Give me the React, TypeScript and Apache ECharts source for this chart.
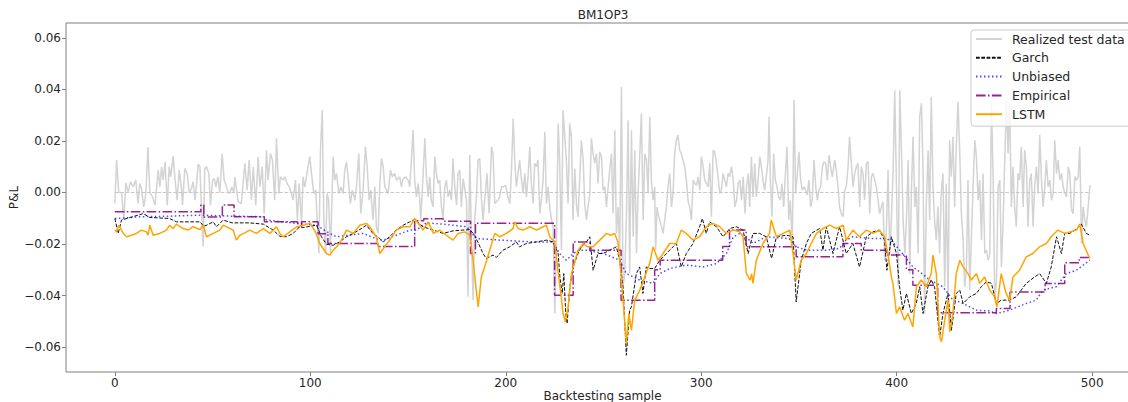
import React, { useEffect, useRef } from "react";
import * as echarts from "echarts";

const FONT = "DejaVu Sans";

const chartTitle = "BM1OP3";
const xAxisName = "Backtesting sample";
const yAxisName = "P&L";
const seriesNames = ["Realized test data", "Garch", "Unbiased", "Empirical", "LSTM"];
const xTickValues = [0, 100, 200, 300, 400, 500];
const yTickValues = [-0.06, -0.04, -0.02, 0.0, 0.02, 0.04, 0.06];
const xRange = [-25, 524];
const yRange = [-0.0697, 0.0658];

const realized: number[][] = [
  [0,-0.0043],[0.9,0.0126],[2,0.0],[3.4,0.0],[4.6,-0.0107],[5.6,0.0038],[6.8,0.0],[8,0.0042],[9.4,0.0022],[10.7,0.0048],[11.9,-0.0043],[12.8,0.0035],[13.6,0.0016],[14.8,-0.0056],[15.9,0.0],[16.9,0.0175],[17.9,0.0],[19.3,-0.0017],[20.5,-0.0049],[22.2,0.0087],[23,0.0022],[23.9,0.01],[24.7,0.0048],[25.7,0.0119],[26.8,-0.0049],[27.8,0.01],[28.6,0.0061],[29.8,0.0141],[30.8,0.0048],[31.9,-0.003],[32.9,0.0087],[34,0.0022],[34.6,-0.0049],[35.8,0.0093],[37,0.0074],[38,0.0],[39.2,0.0016],[40,0.0042],[41,-0.003],[41.8,0.0035],[42.6,0.011],[43.5,0.01],[44.3,-0.0056],[45.2,-0.0211],[46,0.0093],[46.9,0.01],[48.1,0.0074],[48.9,-0.0049],[50,0.0048],[50.8,0.0054],[51.7,0.0022],[52.7,0.0061],[53.7,0.0],[54.9,0.0151],[55.9,0.0048],[57.1,0.0022],[58,0.0],[58.8,-0.0004],[59.8,0.0022],[60.9,0.0],
  [61.4,0.006],[63.1,-0.0036],[64.7,-0.0043],[66.5,0.0113],[67.7,0.0009],[68.7,0.0126],[69.9,-0.003],[70.8,0.01],[72.1,-0.0049],[73.3,0.0139],[74.2,0.0022],[75.4,0.01],[76.4,-0.0082],[77.6,0.0164],[78.4,0.0048],[79.6,0.0151],[80.6,0.0126],[81.8,-0.003],[82.7,0.021],[83.9,-0.0004],[84.7,0.0061],[86.1,0.0048],[87,0.0061],[88.1,0.0035],[89.2,0.0022],[90.4,-0.0004],[91.2,-0.003],[92.4,0.0048],[93.4,-0.0107],[94.3,0.0035],[95.5,-0.012],[96.3,0.0061],[97.2,0.0022],[98.4,0.008],[99.7,0.0139],[100.6,0.0074],[101.8,-0.0004],[102.8,0.0009],[103.5,-0.0107],[104.4,-0.0237],[105.2,0.0164],[106.1,0.032],[106.9,-0.0107],[107.8,-0.0237],[108.6,-0.0004],[109.4,-0.003],[110.3,-0.0237],[111.7,0.0139],[112.5,0.0048],[113.4,0.0074],[114.6,-0.0004],[115.6,0.0022],[116.8,-0.0004],[117.6,0.0087],[118.5,0.0119],[119.5,0.0048],[120.5,-0.0043],[121.5,0.0009],[122.8,-0.003],[123.6,0.0022],[124.8,0.0151],[125.8,-0.0082],[127,0.0009],[128.2,0.0177],[129.1,0.01],[130.1,-0.003],[130.9,0.0009],[132.1,-0.0107],[133,0.0022],[133.8,-0.0133],[134.7,-0.0159],[135.5,0.0022],[136.4,0.0132],[137.3,0.01],[138.1,0.0022],[139,0.0009],[139.8,-0.0004],[141,0.0087],[142,0.0061],[143.2,0.0074],[144.1,0.0048],[145.8,0.0061],[146.6,0.0022],[147.5,0.0054],
  [148.8,0.0061],[150,0.0048],[150.9,0.0022],[151.7,0.0126],[152.6,0.0242],[153.4,0.0048],[154.3,-0.0017],[155.2,0.0035],[156,-0.003],[156.5,-0.0107],[157.4,0.0022],[158.6,0.021],[159.4,0.0061],[160.3,-0.0017],[161.1,0.0061],[161.9,-0.003],[162.8,-0.0056],[163.7,0.0139],[164.5,0.0074],[165.4,0.0035],[166.2,0.0048],[167.1,-0.0056],[167.9,-0.0101],[168.8,0.0022],[169.6,0.0048],[170.5,-0.0017],[171.3,0.0009],[172.2,-0.003],[173,0.0132],[173.9,0.0022],[174.8,-0.0049],[175.6,0.0074],[176.5,0.0087],[177.3,-0.0056],[178.2,0.0054],[179.9,-0.003],[180.7,-0.0405],[181.6,0.0145],[182.4,-0.0172],[183.3,-0.0418],[184.1,-0.0107],[185,-0.0017],[185.8,0.0126],[186.7,0.0132],[187.5,-0.0017],[188.4,-0.0107],[189.2,-0.003],[190.4,0.0074],[191.5,-0.0082],[192.7,0.0177],[193.5,0.0151],[194.4,-0.0043],[195.2,-0.0036],[196,-0.003],[196.9,-0.0017],[197.8,0.0022],[198.6,0.0022],[200,0.0028],[200.7,-0.0004],[202.1,-0.0043],[203,0.01],[203.8,0.0287],[204.6,0.0126],[205.4,0.0022],[206.3,0.0074],[207.1,0.0126],[208,0.0054],[208.9,-0.0004],[209.7,0.0074],[210.6,-0.0017],[211.4,0.0061],[212.3,0.0177],[213.1,0.0035],[214,-0.0043],[214.8,0.0113],[215.7,0.01],[216.5,0.0126],[217.4,-0.0082],[218.2,-0.003],[219.1,0.0048],[220,0.0236],[220.8,-0.0043],[221.7,0.0022],[222.5,-0.0056],[223.4,-0.0107],[224.2,-0.0133],[225.1,-0.047],[225.9,-0.0211],[226.8,0.0268],[227.6,0.0113],[228.5,-0.0224],[229.3,0.032],[230.2,0.0217],[231,0.0126],[231.9,-0.0043],[232.7,0.0268],[233.6,0.0217],[234.4,-0.0107],
  [235.3,0.0093],[236.2,-0.0049],[237,-0.0094],[238.7,0.0203],[239.6,0.0126],[240.4,-0.0043],[241.3,-0.0107],[242.1,-0.0056],[243,-0.0004],[243.8,0.021],[244.7,0.0151],[245.5,0.0113],[246.4,0.0151],[247.2,0.0035],[248.1,0.0158],[249,0.0139],[249.8,0.0009],[250.7,0.0022],[251.5,-0.0056],[252.4,0.0022],[253.2,0.0087],[254.1,0.0151],[254.9,-0.0082],[255.8,0.0242],[256.6,-0.0159],[257.5,-0.0056],[258.3,-0.0237],[259.2,0.041],[260,-0.0366],[260.9,-0.0315],[261.7,-0.0107],[262.6,0.028],[263.4,-0.0315],[264.3,0.0242],[265.2,-0.0172],[266,0.0164],[266.9,-0.0237],[267.7,-0.0004],[268.6,0.0151],[269.4,0.0307],[270.3,-0.0107],[271.1,0.0151],[272,0.0126],[272.8,-0.0004],[273.7,0.0294],[274.5,0.0048],[275.4,-0.003],[276.2,0.0022],[276.7,-0.0224],[277.4,-0.0056],[277.9,-0.0082],[278.8,-0.0107],[280.5,-0.0159],[281.3,-0.0107],[282.2,-0.0056],[283,0.0022],[283.9,0.0074],[284.8,-0.0056],[285.6,-0.0004],[286.4,0.0151],[287.3,0.0203],[288.1,0.0223],[289,0.0164],[289.8,0.0151],[290.7,0.0126],[291.6,0.01],[292.4,0.0048],[293.3,-0.0036],[294.1,-0.0056],[295,-0.0107],[295.9,0.0048],[296.7,0.0035],[297.6,0.0028],[298.4,0.0061],[299.3,0.0009],[300.1,0.0139],[301,0.01],[301.8,0.0048],[302.7,0.0035],[303.5,0.0022],[304.4,0.0113],[305.2,-0.0094],[306.1,0.0164],[306.9,0.0158],[307.8,0.0113],[308.6,0.0061],[309.5,-0.0004],[310.3,0.0009],[311.2,0.0074],[312,0.0048],[312.9,0.0022],[313.8,0.0074],[314.6,0.0061],[315.5,0.01],[316.4,0.0048],[317.2,-0.0056],[318.1,-0.003],[318.9,0.0035],[319.8,0.0048],[320.6,-0.003],[321.5,0.0061],[322.4,-0.0082],[323.2,0.0022],[324.1,0.0074],
  [324.8,-0.0056],[325.7,0.0139],[326.5,-0.0017],[327.4,0.0113],[328.2,-0.0017],[329.1,0.0048],[330,0.0139],[330.8,0.01],[331.6,0.0048],[332.5,0.0009],[333.3,0.0061],[334.2,0.0126],[334.7,0.0294],[335.4,0.0048],[336.2,-0.0094],[337.1,0.0151],[337.9,0.0048],[338.8,0.0022],[339.6,-0.0017],[340.5,-0.003],[341.3,0.0035],[342.2,-0.0056],[343,0.0061],[343.9,0.0177],[344.8,-0.0107],[345.6,-0.003],[346.6,-0.0211],[347.5,0.0359],[348.3,-0.0004],[349.2,0.0074],[350,0.0158],[350.9,0.0048],[351.7,0.0009],[352.6,0.0022],[353.4,0.0009],[354.3,-0.001],[355.1,0.0048],[356,-0.0056],[356.8,-0.003],[357.7,0.0126],[358.6,0.0022],[359.4,-0.003],[360.3,0.0009],[361.1,0.0022],[362,0.01],[362.8,0.0119],[363.7,0.0113],[364.5,0.0048],[365.4,0.0145],[366.2,0.01],[367.1,0.0061],[368.3,0.0126],[369.1,0.0087],[370,0.0022],[370.8,-0.0056],[371.7,-0.0082],[372.6,-0.0094],[373.4,0.0009],[374.2,0.0022],[375.1,0.0093],[375.9,0.0216],[376.8,0.0113],[377.7,0.0022],[378.5,0.0074],[379.4,0.01],[380.2,0.0113],[381.1,-0.0056],[381.9,0.01],[382.8,0.0074],[383.6,-0.003],[384.5,0.0113],[385.4,0.0119],[386.2,-0.0082],[387.1,0.0061],[387.9,0.0074],[388.8,0.0048],[389.6,0.0022],[390.5,-0.003],[391.3,-0.0082],[392.2,-0.0056],[393,-0.0036],[393.9,-0.0263],[394.8,-0.0133],[395.6,0.0087],[396.5,-0.0237],[397.3,-0.0107],[398.2,0.0087],[399,0.0397],[399.9,0.0022],[400.8,-0.0366],[401.6,0.0397],[402.5,0.0151],[403.3,-0.0107],[404.2,-0.0237],[405,-0.0107],[405.9,0.0126],[406.7,-0.0315],[407.6,0.0022],[408.4,0.0216],[409.3,-0.0056],[410.1,0.0022],[411,-0.0237],
  [411.8,0.0294],[412.7,0.0346],[413.5,0.0087],[414.3,-0.047],[415.2,-0.0043],[416.1,0.0164],[416.9,-0.0107],[417.7,0.0372],[418.6,0.0022],[419.4,-0.0107],[420.3,-0.0185],[421.1,-0.0056],[422,-0.0237],[422.8,-0.0004],[423.7,0.0074],[424.6,-0.0366],[425.4,0.0035],[426.3,-0.043],[427.1,0.0203],[428,0.0061],[428.8,0.0216],[429.7,-0.0056],[430.5,0.0177],[431.4,0.0352],[432.3,0.0151],[433.1,-0.0082],[434,-0.0185],[434.8,-0.0366],[435.7,-0.03],[436.5,0.0048],[437.4,-0.0379],[438.2,-0.0185],[439.1,0.0022],[440,0.0203],[440.8,0.0139],[441.7,-0.003],[442.5,0.0048],[443.4,-0.0185],[444.2,0.0074],[445.1,-0.0237],[446,-0.0224],[446.8,-0.0263],[447.7,-0.0237],[448.5,0.0346],[449.4,0.0048],[450.2,-0.0418],[451.1,-0.034],[451.9,0.0022],[452.8,0.0048],[453.6,-0.0289],[454.5,-0.0107],[455.3,0.0126],[456.2,0.0359],[457,0.0151],[457.8,0.0346],[458.7,-0.0056],[459.5,0.01],[460.4,-0.0056],[461.2,-0.0133],[462.1,0.0074],[462.9,0.0048],[463.8,0.0177],[464.7,-0.0056],[465.5,0.0164],[466.4,0.01],[467.2,-0.0133],[468.1,0.0048],[468.9,0.0074],[469.8,-0.0133],[470.6,0.0022],[471.5,0.01],[472.4,-0.0004],[473.2,0.0223],[474.1,0.0048],[474.9,-0.0056],[475.8,0.0022],[476.6,0.0126],[477.5,0.0022],[478.4,0.0048],[479.2,-0.003],[480.1,-0.0004],[480.9,0.0203],[481.8,0.0074],[482.6,0.0126],[483.5,0.0048],[484.4,0.0074],[485.2,0.0022],[486.1,-0.0004],[486.9,-0.0017],[487.8,0.01],[488.6,0.0074],[489.5,-0.0069],[490.3,-0.0082],[491.2,0.0061],[492,0.0048],[492.9,0.0061],[493.7,0.0177],[494.6,-0.0198],[495.4,-0.0056],[496.3,-0.0107],[497.1,-0.0133],[498,-0.0056],[498.9,0.0028]
];

const garch: number[][] = [
  [0,-0.0101],[1.7,-0.0159],[3.4,-0.0107],[14.5,-0.0082],[17.9,-0.0097],[28,-0.0101],[31.5,-0.0114],[43.5,-0.0114],[45.5,-0.0131],[47,-0.0127],[50.3,-0.0114],[52,-0.0133],[55.4,-0.0107],[60,-0.0118],[69,-0.0118],[76,-0.0123],[81,-0.0146],[84.4,-0.017],[87.8,-0.0172],[91.2,-0.0159],[94.6,-0.0133],[96.3,-0.0136],[103.2,-0.0127],[105.7,-0.0172],[108.3,-0.0201],[111.7,-0.0205],[115,-0.0192],[118.5,-0.0172],[122,-0.0159],[125.3,-0.0144],[128.7,-0.0127],[132,-0.0159],[135.6,-0.0179],[137.3,-0.0192],[140.6,-0.0172],[144,-0.0146],[147.5,-0.0127],[150.9,-0.0114],[152.6,-0.0107],[153.4,-0.0105],[157.7,-0.0133],[162.8,-0.0146],[168,-0.0159],[173,-0.0149],[178,-0.0146],[181.6,-0.0144],[184.1,-0.0166],[188.4,-0.0237],[190,-0.0256],[193.5,-0.0243],[195.2,-0.0252],[198.6,-0.0224],[202,-0.0211],[205.4,-0.0192],[207,-0.0211],[210.6,-0.0198],[215.7,-0.0192],[220.9,-0.0185],[224.3,-0.0192],[226.8,-0.0237],[227.7,-0.0328],[228.9,-0.0392],[229.7,-0.0315],[230.7,-0.047],[231.4,-0.0509],[232.8,-0.0366],[234.5,-0.0289],[237,-0.0237],[238.7,-0.0211],[241.3,-0.0192],[243,-0.0172],[244.7,-0.0302],[247.2,-0.0237],[249.8,-0.0237],[253.2,-0.0224],[256.6,-0.0211],[258.3,-0.0263],[260,-0.0366],[261.7,-0.0632],[263.4,-0.0457],[264.3,-0.0444],[266.8,-0.0315],[268.5,-0.0289],[270.2,-0.0392],[271.9,-0.0289],[273.6,-0.0295],[276.2,-0.0295],[278.8,-0.0263],[282.2,-0.0237],[285.6,-0.0211],[287.3,-0.0198],[289.8,-0.0289],[292.4,-0.0237],[295.8,-0.0198],[299.2,-0.0133],[300.6,-0.0101],[302.6,-0.0159],[304.3,-0.0114],[307.8,-0.0133],[311.2,-0.0172],[314.6,-0.014],[318,-0.0133],[321.4,-0.0146],[324,-0.0237],[326.5,-0.0159],[329.9,-0.0159],[333.3,-0.0172],[336,-0.0256],[338.5,-0.0172],[343.6,-0.0166],[347,-0.0172],[348.6,-0.0425],[351.2,-0.0263],[353.8,-0.0198],[356.3,-0.0159],[360.6,-0.014],[362.3,-0.0224],[364,-0.0133],[367.4,-0.0237],[370.8,-0.0133],[374.2,-0.0237],[377.6,-0.0198],[381,-0.0289],[384.5,-0.0172],[387.9,-0.0153],[391.2,-0.0146],[393.8,-0.0185],[395,-0.0302],[397.3,-0.0172],[399.9,-0.0237],[401.5,-0.0366],[403.2,-0.0457],[405,-0.0392],[407.5,-0.047],[410,-0.0431],[411.8,-0.0366],[413.5,-0.047],[416,-0.0366],[417.7,-0.034],[419.4,-0.0366],[422,-0.0561],[423.7,-0.047],[426.3,-0.0392],[428,-0.0535],[430.5,-0.0392],[432.3,-0.0379],[434,-0.0431],[437.4,-0.0405],[440.8,-0.0392],[443.3,-0.0366],[445.9,-0.0347],[448.5,-0.0353],[451,-0.0431],[453.5,-0.0418],[457.8,-0.0418],[461.2,-0.0405],[466.3,-0.0353],[470.6,-0.0328],[473.2,-0.0315],[476.6,-0.0353],[479.1,-0.0289],[481.8,-0.0172],[484.3,-0.0237],[486,-0.0159],[488.6,-0.0159],[491.2,-0.0146],[494.5,-0.0123],[497.1,-0.0159],[499,-0.0166]
];

const unbiased: number[][] = [
  [0,-0.0101],[14.5,-0.0094],[28,-0.0092],[43.5,-0.0088],[60,-0.0092],[76,-0.0094],[77.6,-0.0107],[93,-0.012],[103,-0.0127],[110,-0.0159],[113.4,-0.0172],[127,-0.0159],[135.6,-0.0185],[137.3,-0.0185],[144,-0.0166],[151,-0.0146],[154.3,-0.0146],[159.4,-0.0118],[168,-0.0123],[180,-0.0133],[185,-0.0179],[197,-0.0185],[214,-0.0192],[224,-0.0192],[227.6,-0.0237],[231,-0.0263],[234.5,-0.0237],[237.8,-0.0224],[241.3,-0.0224],[250,-0.0237],[258.3,-0.0263],[261.7,-0.0315],[268.5,-0.034],[275.4,-0.0353],[278.8,-0.0315],[284,-0.0295],[292.4,-0.0282],[301,-0.0289],[307.8,-0.0276],[312.9,-0.0237],[316.4,-0.0172],[319.8,-0.0159],[324.8,-0.0185],[326.5,-0.0198],[333.3,-0.0172],[345,-0.0179],[348.6,-0.0211],[354,-0.0224],[364,-0.0224],[370.8,-0.0217],[374,-0.0185],[377.6,-0.0172],[388,-0.0179],[394.7,-0.0179],[398,-0.0192],[403,-0.0237],[408.3,-0.0289],[411.8,-0.0308],[417,-0.034],[423.7,-0.0366],[428.8,-0.0418],[432.3,-0.0425],[440.8,-0.0457],[447.5,-0.046],[451,-0.047],[457.8,-0.0457],[466.3,-0.0431],[471.4,-0.0418],[474.8,-0.0379],[481.6,-0.0366],[486.8,-0.0315],[491.9,-0.0302],[498.8,-0.0263]
];

const empirical: number[][] = [
  [0,-0.0075],[44,-0.0049],[45.5,-0.0095],[55,-0.0049],[61,-0.0094],[76.5,-0.0114],[93.5,-0.0133],[95.5,-0.0114],[104,-0.016],[109,-0.0198],[134.5,-0.021],[153.4,-0.011],[158,-0.0102],[168,-0.0112],[182,-0.0237],[184.5,-0.0119],[225,-0.0399],[234.5,-0.0192],[243,-0.0224],[259,-0.0418],[276.2,-0.03],[279,-0.0263],[311,-0.021],[314.5,-0.0146],[323,-0.0211],[348.6,-0.025],[372.5,-0.0198],[381.9,-0.0224],[394.7,-0.0243],[405,-0.03],[408.3,-0.036],[421,-0.0467],[451,-0.045],[458,-0.0386],[476,-0.0353],[486,-0.0273],[493.5,-0.0252],[499,-0.0252]
];

const lstm: number[][] = [
  [0,-0.0146],[0.9,-0.0153],[2,-0.0127],[4.3,-0.0159],[6,-0.0172],[8.5,-0.0166],[11,-0.0159],[13.6,-0.0146],[16.2,-0.0153],[17,-0.0166],[17.9,-0.0127],[19.6,-0.0166],[23,-0.0159],[26.4,-0.0146],[28,-0.0127],[29.8,-0.014],[31.5,-0.0123],[34.9,-0.014],[37.5,-0.0146],[40,-0.0133],[43.5,-0.0144],[45.2,-0.0127],[46.9,-0.0172],[50.3,-0.0159],[53.7,-0.0146],[55.4,-0.0127],[60.5,-0.0146],[62.2,-0.0185],[63.9,-0.0166],[66,-0.0159],[69,-0.0146],[72.4,-0.0159],[76,-0.014],[79.3,-0.0159],[82.7,-0.0133],[84.4,-0.0159],[86.1,-0.0172],[89.5,-0.0153],[93,-0.0133],[96.3,-0.0127],[100,-0.012],[103,-0.0159],[104.8,-0.0198],[108.3,-0.0237],[110,-0.0243],[111.7,-0.0224],[115,-0.0198],[118.5,-0.0146],[122,-0.0159],[125.3,-0.0127],[128.7,-0.012],[130.4,-0.0133],[133.7,-0.0172],[135.6,-0.0237],[138,-0.0211],[140.6,-0.0185],[144,-0.0146],[147.5,-0.0133],[151,-0.0133],[153.4,-0.0101],[155.2,-0.012],[157.7,-0.0146],[160.3,-0.0114],[163,-0.0159],[166.2,-0.0146],[169.6,-0.0166],[173,-0.0185],[175.6,-0.0159],[179,-0.0153],[181.6,-0.0166],[183.3,-0.0263],[184.7,-0.0366],[185.9,-0.0444],[187.5,-0.0328],[189.2,-0.0289],[191.8,-0.0224],[194.4,-0.0159],[197,-0.0172],[200.3,-0.0159],[203.7,-0.014],[204.6,-0.0114],[206.3,-0.014],[208.9,-0.0146],[212.3,-0.0133],[215.7,-0.0146],[219.1,-0.0133],[220.8,-0.0127],[222.5,-0.0172],[225,-0.0192],[227.3,-0.034],[228.4,-0.0405],[229.3,-0.047],[230.5,-0.0502],[231.9,-0.0444],[233.6,-0.0315],[237,-0.0224],[239.6,-0.0198],[242,-0.0211],[244.7,-0.0211],[248.1,-0.0185],[251.5,-0.0159],[253.7,-0.0166],[255.7,-0.0159],[257.4,-0.0192],[259.2,-0.034],[261.7,-0.0586],[263,-0.047],[264.3,-0.0535],[266,-0.0418],[268.6,-0.0379],[271.1,-0.0328],[273.6,-0.0276],[275.4,-0.0211],[277.9,-0.0263],[280.5,-0.0237],[283.9,-0.0198],[287.3,-0.0198],[289.8,-0.0146],[292.4,-0.0159],[295.8,-0.0185],[299.2,-0.0172],[302.6,-0.0133],[306,-0.012],[309.5,-0.0133],[312.9,-0.0159],[316.3,-0.0146],[319.7,-0.0153],[321.4,-0.0172],[323.1,-0.0315],[325,-0.034],[325.8,-0.0315],[326.5,-0.0353],[328.2,-0.0263],[331.6,-0.0198],[335,-0.0159],[335.8,-0.0107],[338.5,-0.0172],[342,-0.0159],[345.3,-0.0146],[347,-0.0237],[348.6,-0.034],[351.2,-0.0263],[353.8,-0.0237],[356.3,-0.0198],[359,-0.0159],[362.3,-0.014],[365.8,-0.0127],[369.2,-0.014],[372.6,-0.0127],[374.2,-0.0185],[377.6,-0.0146],[381,-0.0172],[384.5,-0.0146],[387.9,-0.0159],[391.2,-0.0146],[393.8,-0.0172],[395.5,-0.0237],[397.3,-0.0328],[398.1,-0.0353],[399.9,-0.047],[401.5,-0.0444],[404,-0.0496],[405.8,-0.047],[408.3,-0.0522],[410.1,-0.0366],[412.6,-0.034],[415.2,-0.0366],[417.7,-0.0315],[418.6,-0.0243],[420.3,-0.0315],[422,-0.0561],[422.9,-0.058],[424.6,-0.0496],[426.3,-0.0418],[427.2,-0.0541],[428.8,-0.047],[430.5,-0.0315],[432.3,-0.0263],[434,-0.0289],[436.5,-0.0315],[438.2,-0.034],[440.8,-0.0315],[442.5,-0.0353],[445,-0.0328],[447.6,-0.0379],[450.1,-0.0405],[451.3,-0.0444],[453.5,-0.0315],[456,-0.0392],[457.8,-0.0418],[459.5,-0.0328],[462.9,-0.0302],[466.3,-0.025],[469.7,-0.0237],[473.1,-0.0211],[476.6,-0.0198],[479.1,-0.0172],[482.5,-0.0146],[486,-0.0159],[488.6,-0.0153],[492,-0.0146],[493.7,-0.0123],[495.4,-0.0198],[498.8,-0.0256]
];

const zeroLine: number[][] = [[0, 0], [499, 0]];

const fmtY = (v: number) => {
  const s = Math.abs(v).toFixed(2);
  return v < -1e-9 ? "\u2212" + s : s;
};

export default function App() {
  const ref = useRef<HTMLDivElement>(null);
  useEffect(() => {
    if (!ref.current) return;
    const chart = echarts.init(ref.current, undefined, { renderer: "svg" });
    const axisGray = "#808080";
    const labelColor = "#262626";
    chart.setOption({
      animation: false,
      backgroundColor: "#ffffff",
      textStyle: { fontFamily: FONT },
      title: {
        text: chartTitle,
        left: 603,
        top: 9,
        padding: 0,
        textAlign: "center",
        textStyle: { fontFamily: FONT, fontSize: 12, fontWeight: "normal", color: labelColor },
      },
      grid: {
        left: 66,
        top: 23,
        right: -11,
        bottom: 30,
        show: true,
        borderColor: axisGray,
        borderWidth: 1,
        backgroundColor: "transparent",
        containLabel: false,
        outerBoundsMode: "none",
      },
      legend: {
        data: seriesNames,
        orient: "vertical",
        left: 971,
        top: 30,
        padding: [2, 30, 5, 4],
        itemWidth: 26,
        itemHeight: 14,
        itemGap: 4.8,
        itemStyle: { opacity: 0 },
        backgroundColor: "rgba(255,255,255,0.8)",
        borderColor: "#cccccc",
        borderWidth: 1,
        borderRadius: 3,
        textStyle: { fontFamily: FONT, fontSize: 12.5, color: labelColor, lineHeight: 14, padding: [0, 0, 0, 5] },
      },
      xAxis: {
        type: "value",
        min: xRange[0],
        max: xRange[1],
        name: xAxisName,
        nameLocation: "middle",
        nameGap: 18,
        nameMoveOverlap: false,
        nameTextStyle: { fontFamily: FONT, fontSize: 12, color: labelColor },
        axisLine: { show: false, onZero: false },
        axisTick: { show: true, length: 4, customValues: xTickValues, lineStyle: { color: axisGray } },
        axisLabel: {
          customValues: xTickValues,
          margin: 5,
          fontFamily: FONT,
          fontSize: 12,
          color: labelColor,
          formatter: (v: number) => String(Math.round(v)),
        },
        splitLine: { show: false },
      },
      yAxis: {
        type: "value",
        min: yRange[0],
        max: yRange[1],
        name: yAxisName,
        nameLocation: "middle",
        nameGap: 46,
        nameMoveOverlap: false,
        nameTextStyle: { fontFamily: FONT, fontSize: 12, color: labelColor },
        axisLine: { show: false, onZero: false },
        axisTick: { show: true, length: 4, customValues: yTickValues, lineStyle: { color: axisGray } },
        axisLabel: {
          customValues: yTickValues,
          margin: 5,
          fontFamily: FONT,
          fontSize: 12,
          color: labelColor,
          formatter: (v: number) => fmtY(v),
        },
        splitLine: { show: false },
      },
      series: [
        {
          name: seriesNames[0],
          type: "line",
          data: realized,
          symbol: "none",
          lineStyle: { color: "#d3d3d3", width: 1.5 },
          itemStyle: { color: "#d3d3d3" },
          z: 1,
        },
        {
          name: "zero",
          type: "line",
          data: zeroLine,
          symbol: "none",
          silent: true,
          lineStyle: { color: "#c8c8c8", width: 1, type: [3.7, 1.6] },
          z: 2,
        },
        {
          name: seriesNames[1],
          type: "line",
          data: garch,
          symbol: "none",
          lineStyle: { color: "#111111", width: 1, type: [3.7, 1.6] },
          itemStyle: { color: "#111111" },
          z: 3,
        },
        {
          name: seriesNames[2],
          type: "line",
          data: unbiased,
          symbol: "none",
          lineStyle: { color: "rgba(0,0,255,0.7)", width: 1.5, type: [1.5, 2.5] },
          itemStyle: { color: "rgba(0,0,255,0.7)" },
          z: 4,
        },
        {
          name: seriesNames[3],
          type: "line",
          data: empirical,
          step: "end",
          symbol: "none",
          lineStyle: { color: "rgba(128,0,128,0.85)", width: 1.5, type: [9.6, 2.4, 1.5, 2.4] },
          itemStyle: { color: "rgba(128,0,128,0.85)" },
          z: 5,
        },
        {
          name: seriesNames[4],
          type: "line",
          data: lstm,
          symbol: "none",
          lineStyle: { color: "#ffa500", width: 1.5 },
          itemStyle: { color: "#ffa500" },
          z: 6,
        },
      ],
    });
    return () => chart.dispose();
  }, []);
  return (
    <div style={{ position: "fixed", left: 0, top: 0, width: 1128, height: 402, overflow: "hidden", background: "#fff" }}>
      <div ref={ref} style={{ width: 1128, height: 402 }} />
    </div>
  );
}
